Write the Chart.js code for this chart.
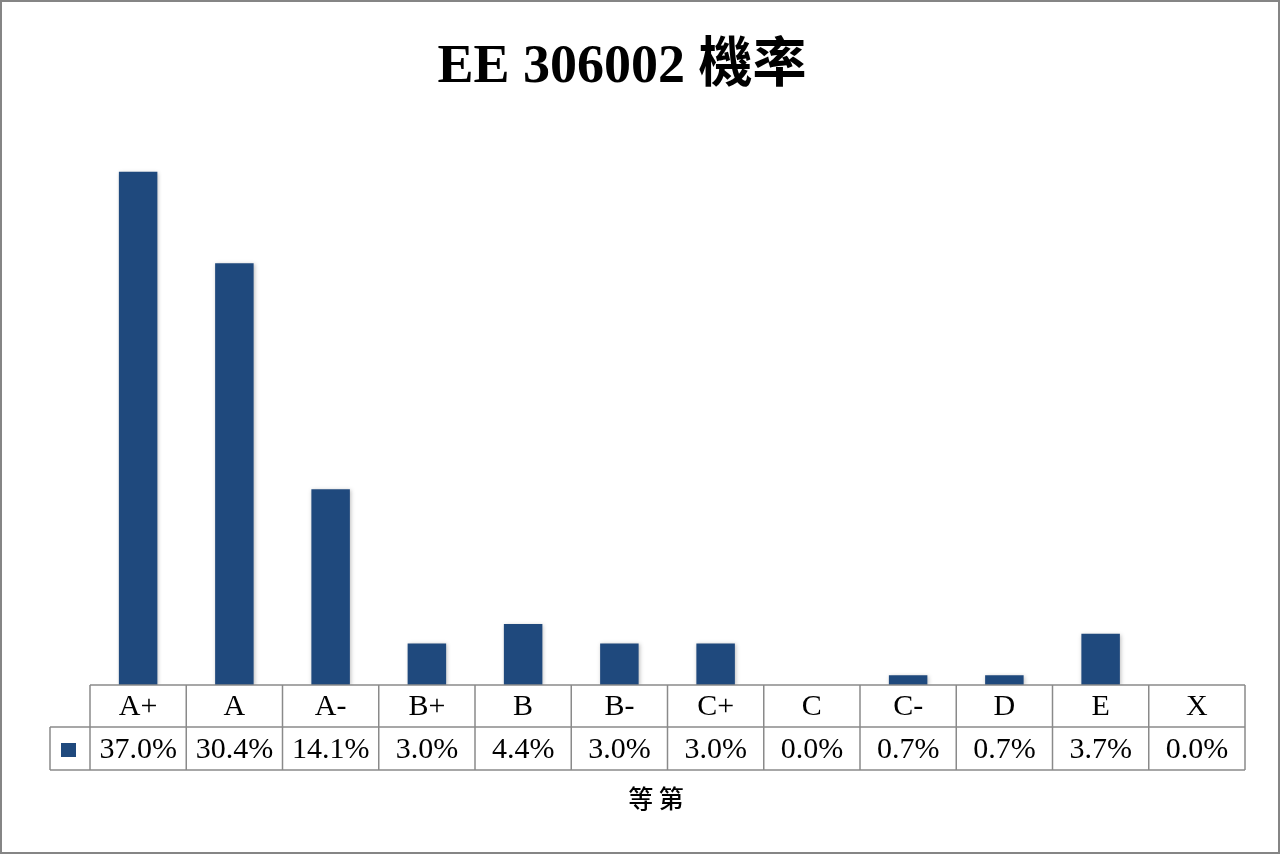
<!DOCTYPE html>
<html>
<head>
<meta charset="utf-8">
<script src="https://cdn.jsdelivr.net/npm/chart.js@4"></script>
<style>
  html, body { margin: 0; padding: 0; background: #fff; }
  #wrap { width: 1280px; height: 854px; }
</style>
</head>
<body>
<div id="wrap"><canvas id="chart" width="1280" height="854"></canvas></div>
<script>
// Grade categories and probability (%) per grade
const grades = ['A+', 'A', 'A-', 'B+', 'B', 'B-', 'C+', 'C', 'C-', 'D', 'E', 'X']
const percents = [37.0, 30.4, 14.1, 3.0, 4.4, 3.0, 3.0, 0.0, 0.7, 0.7, 3.7, 0.0]

const chartTitle = 'EE 306002 機率'
const axisTitle = '等第'

const barColor = '#1F497D'
const lineColor = '#8A8A8A'
const serif = '"Liberation Serif", "Times New Roman", serif'
const cjk = '"Noto Sans CJK TC", "Noto Sans CJK SC", sans-serif'

// Soft shadow under the bars, like the office chart
const barShadow = {
  id: 'barShadow',
  beforeDatasetsDraw(chart) {
    const ctx = chart.ctx
    ctx.save()
    ctx.shadowColor = 'rgba(0, 0, 0, 0.25)'
    ctx.shadowBlur = 4
    ctx.shadowOffsetX = 1
    ctx.shadowOffsetY = 1
  },
  afterDatasetsDraw(chart) {
    chart.ctx.restore()
  }
}

// Title, data table under the axis, axis title and outer border
const tableAndTitle = {
  id: 'tableAndTitle',
  afterDraw(chart) {
    const ctx = chart.ctx
    const x = chart.scales.x
    const area = chart.chartArea
    const step = (area.right - area.left) / grades.length
    const rowH = 42
    const top = area.bottom
    const keyLeft = area.left - 40

    ctx.save()

    // title
    ctx.fillStyle = '#000'
    ctx.textAlign = 'center'
    ctx.textBaseline = 'middle'
    ctx.font = 'bold 54px ' + serif + ', ' + cjk
    ctx.fillText(chartTitle, 622, 68)

    // table lines
    ctx.strokeStyle = lineColor
    ctx.lineWidth = 1.5
    ctx.beginPath()
    ctx.moveTo(area.left, top)
    ctx.lineTo(area.right, top)
    ctx.moveTo(keyLeft, top + rowH)
    ctx.lineTo(area.right, top + rowH)
    ctx.moveTo(keyLeft, top + rowH * 2 + 1)
    ctx.lineTo(area.right, top + rowH * 2 + 1)
    ctx.moveTo(keyLeft, top + rowH)
    ctx.lineTo(keyLeft, top + rowH * 2 + 1)
    for (let i = 0; i <= grades.length; i++) {
      const lx = area.left + i * step
      ctx.moveTo(lx, top)
      ctx.lineTo(lx, top + rowH * 2 + 1)
    }
    ctx.stroke()

    // legend key
    ctx.fillStyle = barColor
    ctx.fillRect(keyLeft + 11, top + rowH + 16, 15, 14)

    // cell texts
    ctx.fillStyle = '#000'
    ctx.font = '30px ' + serif
    grades.forEach((g, i) => {
      const cx = x.getPixelForValue(i)
      ctx.fillText(g, cx, top + rowH / 2 + 1)
      ctx.fillText(percents[i].toFixed(1) + '%', cx, top + rowH * 1.5 + 2)
    })

    // axis title
    ctx.font = '500 25px ' + cjk
    ctx.fillText(axisTitle.split('').join(' '), 656, 798)

    // outer border
    ctx.strokeStyle = '#858585'
    ctx.lineWidth = 3
    ctx.strokeRect(0.5, 0.5, chart.width - 1, chart.height - 1)

    ctx.restore()
  }
}

const config = {
  type: 'bar',
  data: {
    labels: grades,
    datasets: [{
      label: '機率',
      data: percents,
      backgroundColor: barColor,
      borderWidth: 0,
      categoryPercentage: 1.0,
      barPercentage: 0.4
    }]
  },
  options: {
    responsive: false,
    animation: false,
    layout: {
      padding: { left: 90, right: 35, top: 130, bottom: 169 }
    },
    scales: {
      x: { display: false, offset: true },
      y: { display: false, min: 0, max: 40 }
    },
    plugins: {
      legend: { display: false },
      title: { display: false },
      tooltip: { enabled: false }
    }
  },
  plugins: [barShadow, tableAndTitle]
}

new Chart(document.getElementById('chart'), config)
</script>
</body>
</html>
